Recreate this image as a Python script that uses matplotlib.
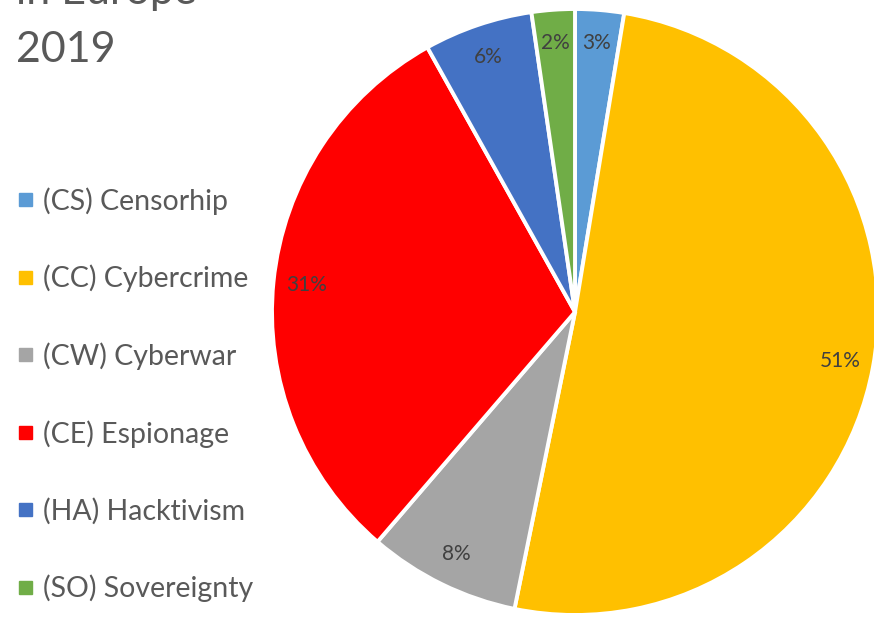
import matplotlib.pyplot as plt
from matplotlib.patches import Rectangle

labels = ["(CS) Censorhip", "(CC) Cybercrime", "(CW) Cyberwar",
          "(CE) Espionage", "(HA) Hacktivism", "(SO) Sovereignty"]
shares = [2.6, 50.6, 8.1, 30.6, 5.8, 2.3]
colors = ["#5B9BD5", "#FFC000", "#A5A5A5", "#FF0000", "#4472C4", "#70AD47"]

W, H = 874, 643
fig = plt.figure(figsize=(W / 100, H / 100), dpi=100)
ax = fig.add_axes([0, 0, 1, 1])

wedges, texts, autotexts = ax.pie(
    shares, colors=colors, startangle=90, counterclock=False,
    center=(575, H - 312), radius=303, autopct="%.0f%%", pctdistance=0.89,
    wedgeprops=dict(edgecolor="white", linewidth=2.8),
    textprops=dict(fontsize=15, color="#404040", family="Lato"))

ax.set_xlim(0, W)
ax.set_ylim(0, H)
ax.set_aspect("equal")
ax.axis("off")

# title (top is cut off in the original)
ax.text(16, H - 4, "in Europe", fontsize=31, color="#595959",
        family="Lato", ha="left", va="baseline")
ax.text(16, H - 62, "2019", fontsize=31, color="#595959",
        family="Lato", ha="left", va="baseline")

# legend
for i in range(len(labels)):
    base = 210 + i * 77.5
    ax.add_patch(Rectangle((19, H - base + 4), 13, 13, color=colors[i]))
    ax.text(43, H - base, labels[i], fontsize=20.5, color="#595959",
            family="Lato", ha="left", va="baseline")

fig.savefig("out.png", dpi=100)
